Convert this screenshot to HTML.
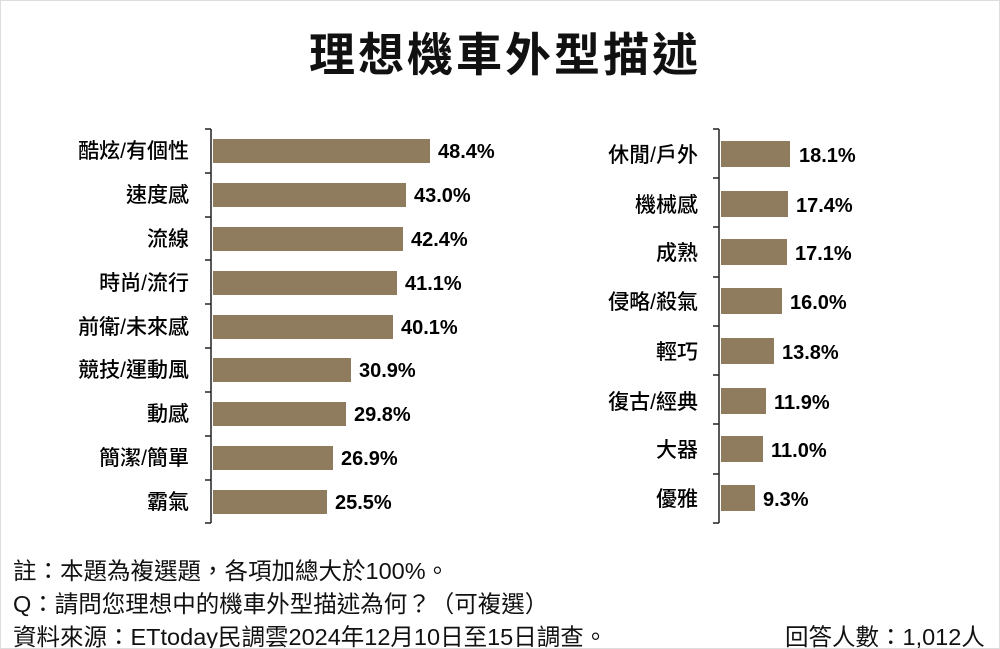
<!DOCTYPE html>
<html><head><meta charset="utf-8"><style>
body{margin:0;background:#fff;}
#c{position:relative;width:1000px;height:649px;overflow:hidden;font-family:"Liberation Sans","Noto Sans CJK TC",sans-serif;color:#111;box-sizing:border-box;border:1px solid #ddd;}
.t{position:absolute;left:4px;width:1000px;top:18px;text-align:center;font-size:46px;font-weight:bold;letter-spacing:3px;}
.f{position:absolute;left:12px;font-size:23.5px;white-space:nowrap;}
</style></head><body><div id="c">
<div class="t">理想機車外型描述</div>
<svg width="1000" height="649" style="position:absolute;left:0;top:0" font-family="Liberation Sans, Noto Sans CJK TC, sans-serif">
<g fill="#8f7c5e">
<rect x="212" y="138" width="217" height="24"/>
<rect x="212" y="182" width="193" height="24"/>
<rect x="212" y="226" width="190" height="24"/>
<rect x="212" y="270" width="184" height="24"/>
<rect x="212" y="314" width="180" height="24"/>
<rect x="212" y="357" width="138" height="24"/>
<rect x="212" y="401" width="133" height="24"/>
<rect x="212" y="445" width="120" height="24"/>
<rect x="212" y="489" width="114" height="24"/>
<rect x="720" y="140" width="69" height="26"/>
<rect x="720" y="190" width="67" height="26"/>
<rect x="720" y="238" width="66" height="26"/>
<rect x="720" y="287" width="61" height="26"/>
<rect x="720" y="337" width="53" height="26"/>
<rect x="720" y="387" width="45" height="26"/>
<rect x="720" y="435" width="42" height="26"/>
<rect x="720" y="484" width="34" height="26"/>
</g>
<g stroke="#222" stroke-width="1.5" fill="none">
<path d="M210 128V522"/>
<path d="M204 128H210M204 172H210M204 216H210M204 259H210M204 303H210M204 347H210M204 391H210M204 435H210M204 479H210M204 522H210"/>
<path d="M718 128V522"/>
<path d="M712 128H718M712 177H718M712 226H718M712 276H718M712 325H718M712 374H718M712 423H718M712 473H718M712 522H718"/>
</g>
<g font-size="21" text-anchor="end" font-weight="500">
<text x="188" y="157">酷炫/有個性</text>
<text x="188" y="201">速度感</text>
<text x="188" y="245">流線</text>
<text x="188" y="289">時尚/流行</text>
<text x="188" y="333">前衛/未來感</text>
<text x="188" y="376">競技/運動風</text>
<text x="188" y="420">動感</text>
<text x="188" y="464">簡潔/簡單</text>
<text x="188" y="508">霸氣</text>
<text x="697" y="161">休閒/戶外</text>
<text x="697" y="211">機械感</text>
<text x="697" y="259">成熟</text>
<text x="697" y="308">侵略/殺氣</text>
<text x="697" y="358">輕巧</text>
<text x="697" y="408">復古/經典</text>
<text x="697" y="456">大器</text>
<text x="697" y="505">優雅</text>
</g>
<g font-size="20" font-weight="bold">
<text x="437" y="157">48.4%</text>
<text x="413" y="201">43.0%</text>
<text x="410" y="245">42.4%</text>
<text x="404" y="289">41.1%</text>
<text x="400" y="333">40.1%</text>
<text x="358" y="376">30.9%</text>
<text x="353" y="420">29.8%</text>
<text x="340" y="464">26.9%</text>
<text x="334" y="508">25.5%</text>
<text x="798" y="161">18.1%</text>
<text x="795" y="211">17.4%</text>
<text x="794" y="259">17.1%</text>
<text x="789" y="308">16.0%</text>
<text x="781" y="358">13.8%</text>
<text x="773" y="408">11.9%</text>
<text x="770" y="456">11.0%</text>
<text x="762" y="505">9.3%</text>
</g>
</svg>
<div class="f" style="top:551px">註：本題為複選題，各項加總大於100%。</div>
<div class="f" style="top:584px">Q：請問您理想中的機車外型描述為何？（可複選）</div>
<div class="f" style="top:617px">資料來源：ETtoday民調雲2024年12月10日至15日調查。</div>
<div class="f" style="top:617px;left:784px">回答人數：1,012人</div>
</div></body></html>
